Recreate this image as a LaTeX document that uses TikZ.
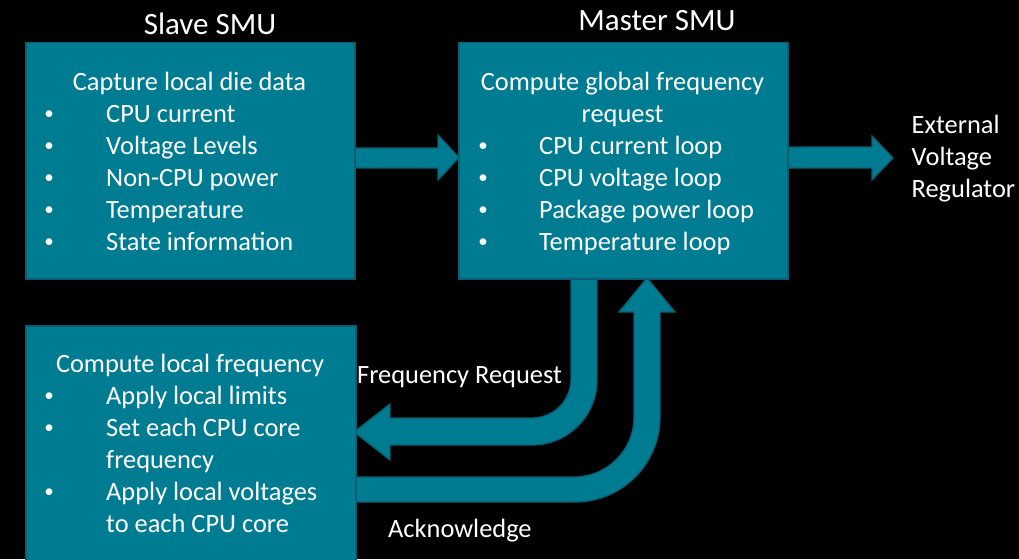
\documentclass[tikz,border=0pt]{standalone}
\usepackage{fontspec}
\setmainfont{Carlito}
\definecolor{tealfill}{HTML}{007C92}
\definecolor{tealline}{HTML}{0B5E70}
\newcommand{\smbul}{\raisebox{2.8pt}{\fontsize{19}{20}\selectfont •}}
\begin{document}
\begin{tikzpicture}[x=1pt,y=-1pt,
  box/.style={draw=tealline,fill=tealfill,line width=1.5pt,anchor=north west,inner sep=0pt},
  blockarrow/.style={draw=tealline,fill=tealfill,line width=1.3pt,line join=miter},
  txt/.style={text=white,inner sep=0pt,anchor=base west,font=\fontsize{26.4}{32}\selectfont},
  ctxt/.style={txt,anchor=base},
  bul/.style={txt,anchor=base},
  ttl/.style={text=white,inner sep=0pt,anchor=base,font=\fontsize{31}{37}\selectfont}]
\useasboundingbox (0,0) rectangle (1019,559);
\fill[black] (0,0) rectangle (1019,559);
\clip (0,0) rectangle (1019,559);

% block arrows
\filldraw[blockarrow] (354,148) -- (438,148) -- (438,135) -- (459,157.5) -- (438,180) -- (438,168) -- (354,168) -- cycle;
\filldraw[blockarrow] (787,147) -- (872,147) -- (872,136) -- (893,158) -- (872,180) -- (872,168) -- (787,168) -- cycle;
% Frequency request
\filldraw[blockarrow] (571,278) -- (571,379) arc[start angle=0,end angle=90,radius=39] -- (390,418) -- (390,404) -- (354,432) -- (390,460) -- (390,445) -- (532,445) arc[start angle=90,end angle=0,radius=65] -- (597,278) -- cycle;
% Acknowledge
\filldraw[blockarrow] (354,477) -- (574,477) arc[start angle=90,end angle=0,radius=60] -- (634,312) -- (619,312) -- (647,278) -- (675,312) -- (660,312) -- (660,417) arc[start angle=0,end angle=90,radius=85] -- (354,502) -- cycle;

% boxes
\node[box,minimum width=329pt,minimum height=236pt] (slave) at (25,42) {};
\node[box,minimum width=329pt,minimum height=236pt] (master) at (458,42) {};
\node[box,minimum width=330pt,minimum height=245pt] (local) at (25,325) {};

% titles
\node[ttl] (tslave) at (210,34.5) {Slave SMU};
\node[ttl] (tmaster) at (657,31) {Master SMU};

% slave text
\node[ctxt] (s0) at (189.5,91) {Capture local die data};
\node[bul] (sb1) at (49,122.5) {\smbul};
\node[txt] (s1) at (106,122.5) {CPU current};
\node[bul] (sb2) at (49,154.5) {\smbul};
\node[txt] (s2) at (106,154.5) {Voltage Levels};
\node[bul] (sb3) at (49,186) {\smbul};
\node[txt] (s3) at (106,186) {Non-CPU power};
\node[bul] (sb4) at (49,218) {\smbul};
\node[txt] (s4) at (106,218) {Temperature};
\node[bul] (sb5) at (49,250) {\smbul};
\node[txt] (s5) at (106,250) {State information};

% master text
\node[ctxt] (m0) at (622.5,91) {Compute global frequency};
\node[ctxt] (m1) at (622.5,122.5) {request};
\node[bul] (mb2) at (483,154.5) {\smbul};
\node[txt] (m2) at (539,154.5) {CPU current loop};
\node[bul] (mb3) at (483,186) {\smbul};
\node[txt] (m3) at (539,186) {CPU voltage loop};
\node[bul] (mb4) at (483,218) {\smbul};
\node[txt] (m4) at (539,218) {Package power loop};
\node[bul] (mb5) at (483,250) {\smbul};
\node[txt] (m5) at (539,250) {Temperature loop};

% local text
\node[ctxt] (l0) at (190,372) {Compute local frequency};
\node[bul] (lb1) at (49,404) {\smbul};
\node[txt] (l1) at (106,404) {Apply local limits};
\node[bul] (lb2) at (49,436) {\smbul};
\node[txt] (l2) at (106,436) {Set each CPU core};
\node[txt] (l3) at (106,468) {frequency};
\node[bul] (lb4) at (49,500) {\smbul};
\node[txt] (l4) at (106,500) {Apply local voltages};
\node[txt] (l5) at (106,532) {to each CPU core};

% outside labels
\node[txt] (ev1) at (911.5,133.5) {External};
\node[txt] (ev2) at (911.5,165.5) {Voltage};
\node[txt] (ev3) at (911.5,197.5) {Regulator};
\node[txt] (freq) at (357,383) {Frequency Request};
\node[txt] (ack) at (388,537) {Acknowledge};
\end{tikzpicture}
\end{document}
